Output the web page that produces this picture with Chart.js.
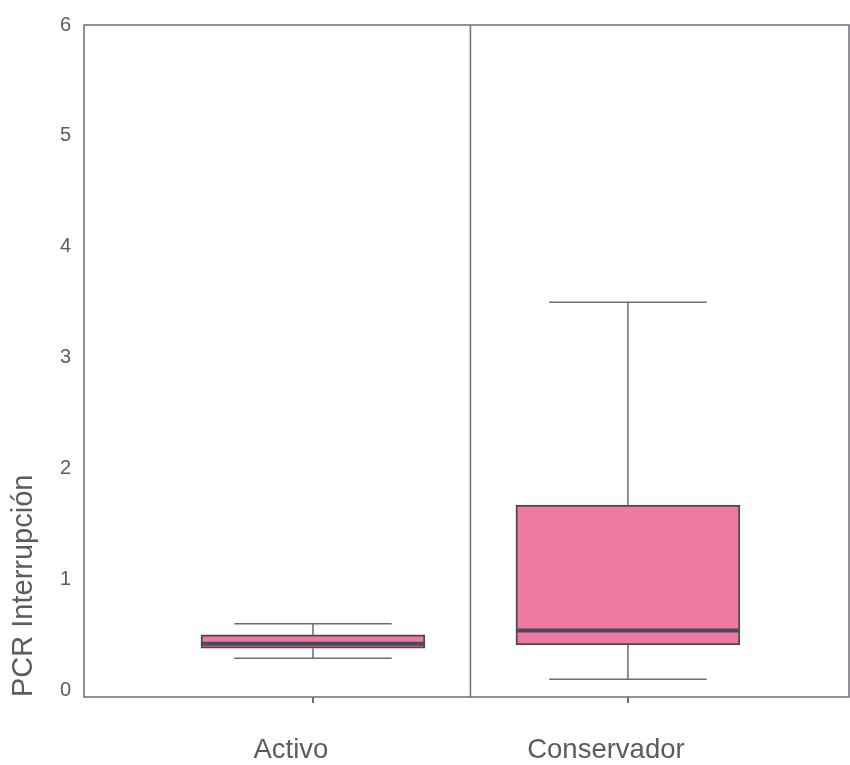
<!DOCTYPE html>
<html>
<head>
<meta charset="utf-8">
<script src="https://cdn.jsdelivr.net/npm/chart.js@4.4.1/dist/chart.umd.min.js"></script>
<style>
  html, body { margin: 0; padding: 0; background: #fff; }
  #marco { width: 850px; height: 765px; }
</style>
</head>
<body>
<div id="marco"><canvas id="graf"></canvas></div>
<script>
// ── Datos ─────────────────────────────────────────────────────────────
const CATEGORIAS = ['Activo', 'Conservador'];
const BIGOTE_MIN = [0.29, 0.10];
const Q1         = [0.38, 0.41];
const MEDIANA    = [0.42, 0.54];
const Q3         = [0.50, 1.67];
const BIGOTE_MAX = [0.60, 3.50];
const TICKS_Y    = [0, 1, 2, 3, 4, 5, 6];

// ── Estilo ────────────────────────────────────────────────────────────
const FUENTE     = '"Liberation Sans", Arial, sans-serif';
const COLOR_EJE  = '#6c6c78';
const COLOR_TXT  = '#5c5c5c';
const COLOR_CAJA = '#ef79a0';
const COLOR_BORDE = '#4a4a58';
const ANCHO_TAPA = 0.5;   // fracción de una categoría

/** Bigotes, tapas, mediana, divisor y marco — todo vía las escalas */
const pluginCaja = {
    id: 'caja',
    afterDatasetsDraw(chart) {
        const { ctx, chartArea: a, scales: { x, y } } = chart;
        const medio = (x.getPixelForValue(1) - x.getPixelForValue(0)) * ANCHO_TAPA / 2;
        const anchoBarra = chart.getDatasetMeta(0).data.map(b => b.width / 2);
        ctx.save();

        // divisor entre grupos
        ctx.strokeStyle = COLOR_EJE;
        ctx.lineWidth = 1.5;
        const xd = x.getPixelForValue(0.5);
        ctx.beginPath();
        ctx.moveTo(xd, a.top);
        ctx.lineTo(xd, a.bottom);
        ctx.stroke();

        CATEGORIAS.forEach((c, i) => {
            const cx = x.getPixelForValue(i);
            // bigotes
            ctx.strokeStyle = COLOR_EJE;
            ctx.lineWidth = 1.5;
            ctx.beginPath();
            ctx.moveTo(cx, y.getPixelForValue(Q3[i]));
            ctx.lineTo(cx, y.getPixelForValue(BIGOTE_MAX[i]));
            ctx.moveTo(cx, y.getPixelForValue(Q1[i]));
            ctx.lineTo(cx, y.getPixelForValue(BIGOTE_MIN[i]));
            // tapas
            [BIGOTE_MAX[i], BIGOTE_MIN[i]].forEach(v => {
                const py = y.getPixelForValue(v);
                ctx.moveTo(cx - medio, py);
                ctx.lineTo(cx + medio, py);
            });
            ctx.stroke();

            // mediana
            ctx.strokeStyle = COLOR_BORDE;
            ctx.lineWidth = 4;
            const pm = y.getPixelForValue(MEDIANA[i]);
            ctx.beginPath();
            ctx.moveTo(cx - anchoBarra[i], pm);
            ctx.lineTo(cx + anchoBarra[i], pm);
            ctx.stroke();
        });

        // marco del área de trazado
        ctx.strokeStyle = COLOR_EJE;
        ctx.lineWidth = 1.5;
        ctx.strokeRect(a.left, a.top, a.right - a.left, a.bottom - a.top);
        ctx.restore();
    },
};

new Chart(document.getElementById('graf'), {
    type: 'bar',
    data: {
        datasets: [{
            data: CATEGORIAS.map((c, i) => ({ x: i, y: [Q1[i], Q3[i]] })),
            backgroundColor: COLOR_CAJA,
            borderColor:     COLOR_BORDE,
            borderWidth:     2,
            borderSkipped:   false,
            barThickness:    224,
        }],
    },
    options: {
        responsive:          true,
        maintainAspectRatio: false,
        animation:           false,
        layout: { padding: { left: 4, top: 22, right: 1, bottom: 0 } },
        plugins: { legend: { display: false }, tooltip: { enabled: false } },
        scales: {
            x: {
                type: 'linear',
                offset: false,
                min: -0.727,
                max: 1.702,
                afterBuildTicks: s => { s.ticks = CATEGORIAS.map((c, i) => ({ value: i })); },
                afterFit: s => { s.height = 68; },
                grid:   { offset: false, drawOnChartArea: false, drawTicks: true, tickLength: 6, color: COLOR_EJE, lineWidth: 2 },
                border: { display: false },
                ticks: {
                    callback: (v, i) => CATEGORIAS[i],
                    font: { family: FUENTE, size: 27.5 },
                    color: COLOR_TXT,
                    padding: 31,
                    labelOffset: -22,
                    maxRotation: 0,
                },
            },
            y: {
                min: -0.06,
                max: 6,
                afterBuildTicks: s => { s.ticks = TICKS_Y.map(v => ({ value: v })); },
                afterFit: s => { s.width = 80; },
                grid:   { display: false, drawTicks: false },
                border: { display: false },
                ticks: {
                    font: { family: FUENTE, size: 20 },
                    color: COLOR_TXT,
                    padding: 13,
                },
                title: {
                    display: true,
                    text: 'PCR Interrupción',
                    align: 'start',
                    font: { family: FUENTE, size: 29 },
                    color: COLOR_TXT,
                    padding: { top: 3, bottom: 0 },
                },
            },
        },
    },
    plugins: [pluginCaja],
});
</script>
</body>
</html>
